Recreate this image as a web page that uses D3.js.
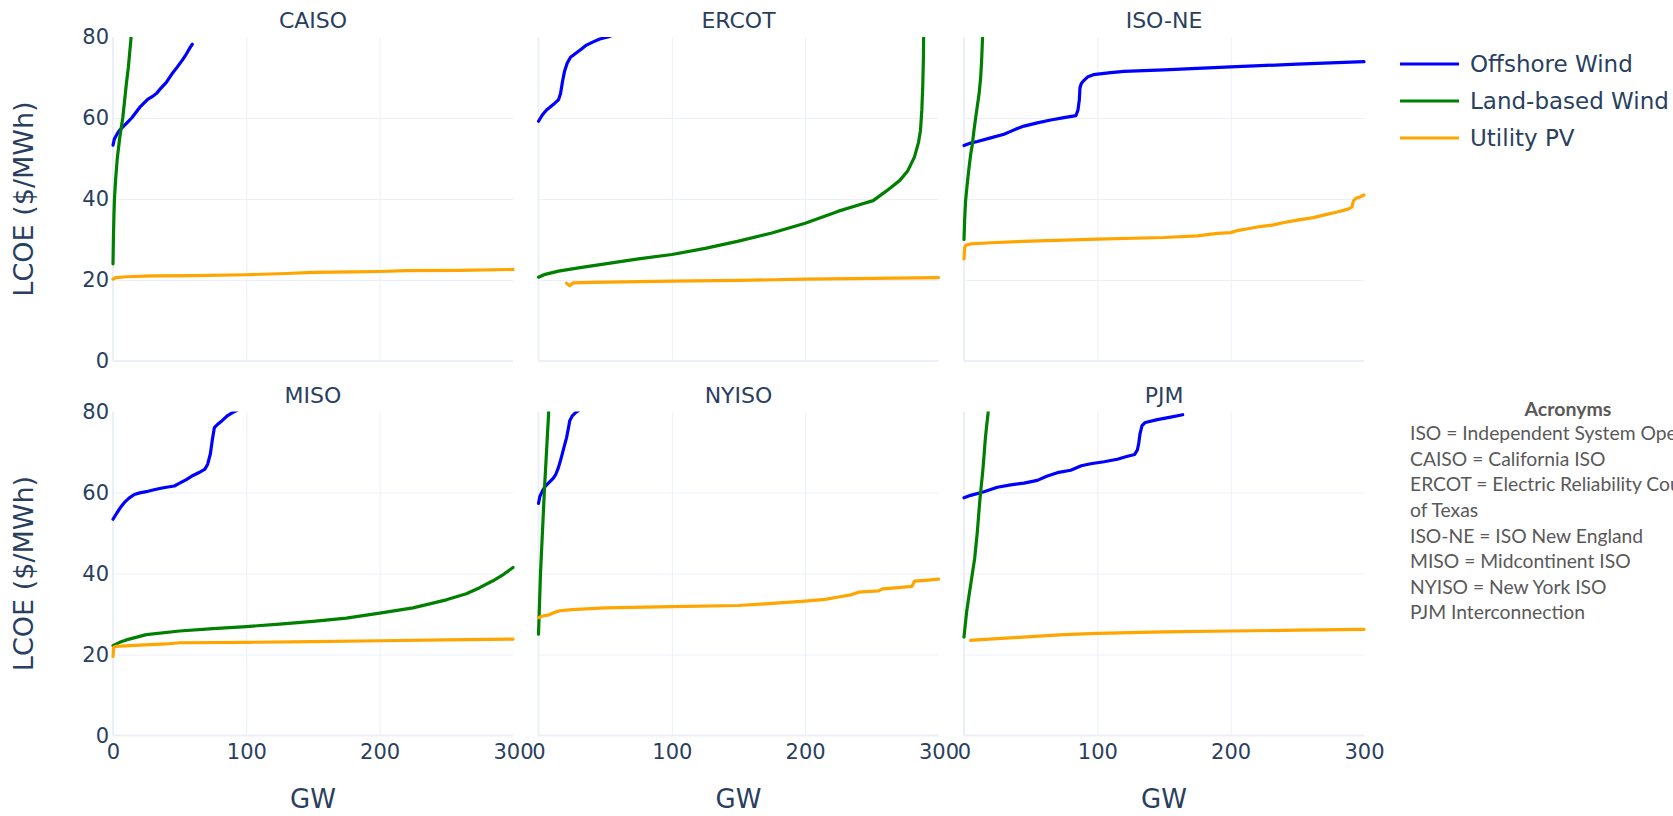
<!DOCTYPE html>
<html>
<head>
<meta charset="utf-8">
<script src="https://cdn.jsdelivr.net/npm/d3@7"></script>
<style>
  html, body { margin: 0; padding: 0; background: #ffffff; overflow: hidden; }
  svg { display: block; }
</style>
</head>
<body>
<svg id="chart" width="1673" height="816"></svg>
<script>
// ---------------- DATA ----------------
const regions = ["CAISO", "ERCOT", "ISO-NE", "MISO", "NYISO", "PJM"];
const seriesNames = ["Offshore Wind", "Land-based Wind", "Utility PV"];
const xTicks = [0, 100, 200, 300];
const yTicks = [0, 20, 40, 60, 80];
const xTitle = "GW";
const yTitle = "LCOE ($/MWh)";
const acronymsTitle = "Acronyms";
const acronymLines = [
  "ISO = Independent System Operator",
  "CAISO = California ISO",
  "ERCOT = Electric Reliability Council",
  "of Texas",
  "ISO-NE = ISO New England",
  "MISO = Midcontinent ISO",
  "NYISO = New York ISO",
  "PJM Interconnection"
];

// [GW, LCOE $/MWh]
const offshoreCAISO = [[0,53.3],[1,54.8],[3,56],[5,57],[8,58],[11,59],[14,60],[17,61.3],[20,62.6],[23,63.6],[26,64.6],[30,65.4],[33,66.2],[36,67.4],[40,68.8],[44,70.8],[48,72.5],[52,74.3],[55,75.8],[58,77.5],[59.5,78.2]];
const landCAISO = [[0,24],[0.3,30],[0.7,36],[1.1,40],[2,45],[3.2,50],[5,55],[7.3,60],[8.6,64],[10,68.4],[11.5,72.5],[13.4,79.3],[14,82]];
const pvCAISO = [[0,20.2],[2,20.6],[10,20.8],[30,21],[60,21.1],[100,21.3],[130,21.6],[150,21.9],[180,22],[200,22.1],[220,22.3],[260,22.4],[300,22.6]];

const offshoreERCOT = [[0,59.2],[3,60.8],[6,62],[9,62.8],[12,63.6],[15,64.5],[16.5,66],[18,69],[19.5,71.5],[21.5,73.5],[24,75],[28,76],[32,77],[36,78],[41,78.8],[46,79.5],[52,80],[56,80.5]];
const landERCOT = [[0,20.7],[5,21.4],[15,22.2],[30,23],[50,24],[75,25.2],[100,26.3],[125,27.8],[150,29.6],[175,31.6],[200,34],[225,37],[240,38.5],[251,39.6],[261,42],[271,44.6],[277,47],[282,50.4],[285,54],[286.5,57],[287.5,62],[288.2,68],[288.7,75],[289,85]];
const pvERCOT = [[21,19.2],[23.5,18.6],[26,19.3],[40,19.4],[100,19.7],[150,19.9],[200,20.2],[250,20.4],[300,20.6]];

const offshoreISONE = [[0,53.2],[5,53.8],[10,54.2],[20,55.1],[30,56],[35,56.7],[40,57.4],[45,58],[55,58.8],[65,59.5],[75,60.1],[84,60.6],[85.5,62],[86.5,64.5],[87,67.5],[88,68.5],[90,69.3],[93,70.2],[97,70.7],[110,71.2],[120,71.5],[150,71.9],[200,72.6],[250,73.3],[300,73.9]];
const landISONE = [[0,30],[0.5,35],[1.2,39.6],[2.5,44],[3.8,47.8],[5,51],[6.3,53.6],[7.5,57],[8.8,60.2],[10,63],[11.3,65.9],[12.5,70],[13.2,74],[13.8,79],[14.2,82]];
const pvISONE = [[0,25.2],[0.5,28],[1.5,28.6],[5,28.9],[20,29.2],[50,29.6],[100,30.1],[150,30.5],[175,30.9],[190,31.5],[200,31.7],[205,32.2],[212,32.6],[222,33.2],[232,33.6],[240,34.2],[250,34.8],[262,35.4],[272,36.2],[280,36.8],[288,37.5],[291,38],[292,39.5],[294,40.2],[297,40.5],[300,41]];

const offshoreMISO = [[0,53.4],[3,55],[6,56.5],[9,57.7],[12,58.6],[16,59.5],[20,59.9],[25,60.2],[30,60.6],[35,61],[40,61.3],[46,61.6],[50,62.3],[55,63.2],[60,64.2],[65,65],[69,65.8],[71,67],[73,69.5],[74.5,73],[76,76],[79,77],[82,77.8],[86,79],[90,79.8],[93,80.3]];
const landMISO = [[0,22.2],[5,23],[10,23.6],[25,24.9],[50,25.8],[75,26.4],[100,26.9],[125,27.5],[150,28.2],[175,29],[200,30.2],[225,31.5],[250,33.5],[265,35],[275,36.5],[285,38.2],[293,39.8],[300,41.5]];
const pvMISO = [[0,19.5],[0.5,21.8],[2,22],[20,22.3],[40,22.6],[50,22.9],[100,23],[150,23.2],[200,23.4],[250,23.6],[300,23.8]];

const offshoreNYISO = [[0,57.3],[1,59],[3,60.4],[5,61.5],[8,62.5],[11,63.5],[13,64.5],[15,66.2],[17,68.5],[19,71],[21,73.5],[22.5,76],[23.5,77.8],[25.5,79],[28,79.8],[30,80.2]];
const landNYISO = [[0,25],[0.4,29],[0.8,33],[1.5,40],[2.5,47],[3.5,54],[4.5,61],[5.5,67],[6.5,73],[7.5,79],[8,83]];
const pvNYISO = [[0,29.1],[3,29.5],[8,29.8],[12,30.4],[16,30.8],[25,31.1],[50,31.5],[100,31.8],[150,32.1],[175,32.6],[200,33.2],[215,33.6],[225,34.2],[235,34.8],[240,35.4],[255,35.7],[258,36.2],[270,36.5],[280,36.8],[282,38.1],[290,38.3],[300,38.6]];

const offshorePJM = [[0,58.7],[5,59.3],[15,60.2],[25,61.3],[35,61.9],[45,62.3],[55,63],[62,64],[70,64.9],[80,65.5],[88,66.6],[95,67.1],[105,67.6],[115,68.2],[122,68.9],[128,69.4],[130,70.5],[131,72],[132,74.5],[133.5,76.5],[136,77.3],[145,78],[155,78.6],[164,79.2]];
const landPJM = [[0,24.3],[1,27.5],[2,30.6],[3.5,34],[5,37.2],[6.5,40.5],[8,43.7],[9,47],[10,50.3],[11,54.5],[12,58.5],[13,61.8],[14,65],[15,69],[16,73.3],[17,76.5],[18,79.4],[18.5,82]];
const pvPJM = [[5,23.5],[10,23.6],[25,23.9],[50,24.4],[75,24.9],[100,25.2],[150,25.6],[200,25.8],[250,26],[300,26.2]];

// table built from the arrays above
const panelData = {
  "CAISO":  [offshoreCAISO, landCAISO, pvCAISO],
  "ERCOT":  [offshoreERCOT, landERCOT, pvERCOT],
  "ISO-NE": [offshoreISONE, landISONE, pvISONE],
  "MISO":   [offshoreMISO, landMISO, pvMISO],
  "NYISO":  [offshoreNYISO, landNYISO, pvNYISO],
  "PJM":    [offshorePJM, landPJM, pvPJM]
};

// ---------------- STYLE / LAYOUT ----------------
const colors = ["#0000ff", "#008000", "#ffa500"];
const textColor = "#2a3f5f";
const gridColor = "#ebf0f8";
const font = "'DejaVu Sans', Verdana, sans-serif";
const colLeft = [113, 538.5, 964];
const rowTop = [37, 411.5];
const pw = 400, ph = 324;

const svg = d3.select("#chart");
svg.append("rect").attr("width", 1673).attr("height", 816).attr("fill", "#fff");
const defs = svg.append("defs");

regions.forEach((name, i) => {
  const col = i % 3, row = Math.floor(i / 3);
  const left = colLeft[col], top = rowTop[row];
  const x = d3.scaleLinear().domain([xTicks[0], xTicks[xTicks.length - 1]]).range([left, left + pw]);
  const y = d3.scaleLinear().domain([yTicks[0], yTicks[yTicks.length - 1]]).range([top + ph, top]);

  const g = svg.append("g");

  // gridlines
  const innerX = xTicks.filter(t => t !== xTicks[0] && t !== xTicks[xTicks.length - 1]);
  const innerY = yTicks.filter(t => t !== yTicks[0] && t !== yTicks[yTicks.length - 1]);
  const gx = g.append("g").attr("transform", `translate(0,${top + ph})`)
    .call(d3.axisBottom(x).tickValues(innerX).tickSize(-ph).tickFormat(""));
  gx.select(".domain").remove();
  gx.selectAll("line").attr("stroke", gridColor).attr("stroke-width", 1);
  const gy = g.append("g").attr("transform", `translate(${left},0)`)
    .call(d3.axisLeft(y).tickValues(innerY).tickSize(-pw).tickFormat(""));
  gy.select(".domain").remove();
  gy.selectAll("line").attr("stroke", gridColor).attr("stroke-width", 1);

  // zero lines
  g.append("line").attr("x1", x(0)).attr("x2", x(0)).attr("y1", y(yTicks[0])).attr("y2", y(yTicks[yTicks.length-1]))
    .attr("stroke", gridColor).attr("stroke-width", 2);
  g.append("line").attr("x1", x(xTicks[0])).attr("x2", x(xTicks[xTicks.length-1])).attr("y1", y(0)).attr("y2", y(0))
    .attr("stroke", gridColor).attr("stroke-width", 2);

  // clip
  const cid = "clip" + i;
  defs.append("clipPath").attr("id", cid).append("rect")
    .attr("x", left - 3).attr("y", top).attr("width", pw + 6).attr("height", ph + 3);

  const line = d3.line().x(d => x(d[0])).y(d => y(d[1]));
  const lg = g.append("g").attr("clip-path", `url(#${cid})`);
  panelData[name].forEach((series, si) => {
    lg.append("path").datum(series)
      .attr("d", line)
      .attr("fill", "none")
      .attr("stroke", colors[si])
      .attr("stroke-width", 3.2)
      .attr("stroke-linejoin", "round")
      .attr("stroke-linecap", "round");
  });

  // tick labels
  if (col === 0) {
    const ay = g.append("g").attr("transform", `translate(${left},0)`)
      .call(d3.axisLeft(y).tickValues(yTicks).tickSize(0).tickPadding(4));
    ay.select(".domain").remove();
    ay.selectAll("text").attr("font-family", font).attr("font-size", 21).attr("fill", textColor);
  }
  if (row === 1) {
    const ax = g.append("g").attr("transform", `translate(0,${top + ph})`)
      .call(d3.axisBottom(x).tickValues(xTicks).tickSize(0).tickPadding(9));
    ax.select(".domain").remove();
    ax.selectAll("text").attr("font-family", font).attr("font-size", 21).attr("fill", textColor);
    svg.append("text").attr("x", left + pw / 2).attr("y", 808)
      .attr("text-anchor", "middle").attr("font-family", font).attr("font-size", 26)
      .attr("fill", textColor).text(xTitle);
  }
  if (col === 0) {
    svg.append("text")
      .attr("transform", `translate(33,${top + ph / 2}) rotate(-90)`)
      .attr("text-anchor", "middle").attr("font-family", font).attr("font-size", 27)
      .attr("fill", textColor).text(yTitle);
  }

  // subplot title
  svg.append("text").attr("x", left + pw / 2).attr("y", top - 9)
    .attr("text-anchor", "middle").attr("font-family", font).attr("font-size", 22)
    .attr("fill", textColor).text(name);
});

// legend
const legend = svg.append("g");
seriesNames.forEach((s, i) => {
  const yy = 64 + i * 37;
  legend.append("line").attr("x1", 1400).attr("x2", 1459).attr("y1", yy).attr("y2", yy)
    .attr("stroke", colors[i]).attr("stroke-width", 3.2);
  legend.append("text").attr("x", 1470).attr("y", yy).attr("dy", "0.35em")
    .attr("font-family", font).attr("font-size", 23).attr("fill", textColor).text(s);
});

// acronyms note
const note = svg.append("g");
note.append("text").attr("x", 1568).attr("y", 409).attr("dy", "0.35em")
  .attr("text-anchor", "middle").attr("font-family", "Lato, 'Open Sans', sans-serif")
  .attr("font-weight", "bold").attr("font-size", 19.5).attr("fill", "#595959").text(acronymsTitle);
acronymLines.forEach((t, i) => {
  note.append("text").attr("x", 1410).attr("y", 433.5 + i * 25.6).attr("dy", "0.35em")
    .attr("font-family", "Lato, 'Open Sans', sans-serif").attr("font-size", 19.3)
    .attr("fill", "#595959").text(t);
});
</script>
</body>
</html>
